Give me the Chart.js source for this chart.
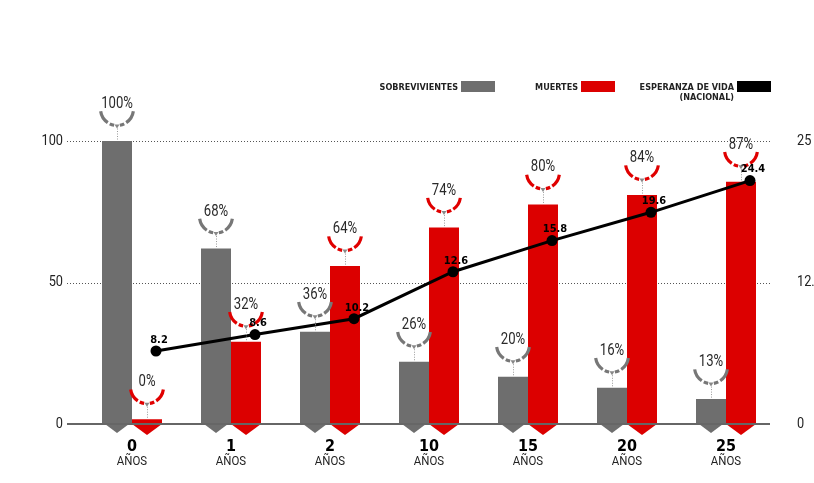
<!DOCTYPE html>
<html>
<head>
<meta charset="utf-8">
<script src="https://cdn.jsdelivr.net/npm/chart.js@4"></script>
<style>
  html, body { margin: 0; padding: 0; background: #fff; }
  #wrap { position: relative; width: 814px; height: 483px; overflow: hidden; }
  #chart { position: absolute; left: 0; top: 0; }
  .legend-item {
    position: absolute; top: 81px; display: flex; align-items: flex-start; gap: 3px;
    font: bold 9px "DejaVu Sans Condensed", "DejaVu Sans", sans-serif; color: #222;
    text-align: right; line-height: 10px;
  }
  .legend-item .sw { width: 34px; height: 11px; }
  .legend-item .txt { padding-top: 1px; }
</style>
</head>
<body>
<div id="wrap">
  <canvas id="chart" width="814" height="483"></canvas>
  <div id="legend"></div>
</div>
<script>
// Categories (age in years) and unit shown under each one
const categories = ['0', '1', '2', '10', '15', '20', '25'];
const unitLabel = 'AÑOS';

// Bar heights (left axis, 0-100)
const survivors = [100, 62, 32.6, 22, 16.7, 12.8, 8.8];
const deaths = [1.7, 29.1, 55.8, 69.4, 77.6, 80.9, 85.6];

// Line values (right axis, 0-25)
const lifeExpectancy = [6.45, 7.9, 9.3, 13.45, 16.2, 18.7, 21.5];

// Texts printed over the marks
const survivorsText = ['100%', '68%', '36%', '26%', '20%', '16%', '13%'];
const deathsText = ['0%', '32%', '64%', '74%', '80%', '84%', '87%'];
const lifeText = ['8.2', '8.6', '10.2', '12.6', '15.8', '19.6', '24.4'];

// Tick labels
const leftTicks = [0, 50, 100];
const rightTicks = [0, 12.5, 25];

// Legend
const legendItems = [
    { text: 'SOBREVIVIENTES', color: '#6e6e6e', right: 319 },
    { text: 'MUERTES', color: '#dc0000', right: 199 },
    { text: 'ESPERANZA DE VIDA<br>(NACIONAL)', color: '#000000', right: 43 }
];

const GRAY = '#6e6e6e';
const RED = '#dc0000';
const GRID_LEFT = 67;
const GRID_RIGHT = 770;
const LINE_SHIFT = 24;
const NARROW = 'Roboto, "DejaVu Sans", sans-serif';

const legendEl = document.getElementById('legend');
legendItems.forEach(item => {
    const div = document.createElement('div');
    div.className = 'legend-item';
    div.style.right = item.right + 'px';
    div.innerHTML = '<span class="txt">' + item.text + '</span><span class="sw" style="background:' + item.color + '"></span>';
    legendEl.appendChild(div);
});

// text squeezed horizontally, the source uses a condensed face
function narrowText(ctx, text, x, y, font, color, align, squeeze) {
    ctx.save();
    ctx.font = font;
    ctx.fillStyle = color;
    ctx.textAlign = align;
    ctx.textBaseline = 'middle';
    ctx.translate(x, y);
    ctx.scale(squeeze, 1);
    ctx.fillText(text, 0, 0);
    ctx.restore();
}

// draws a dashed half-ring with a small pointer under the percent text
function drawBracket(ctx, cx, top, color, text) {
    const r = 16.5;
    const cy = top - 32;
    const deg = Math.PI / 180;
    ctx.save();
    ctx.strokeStyle = color;
    ctx.lineWidth = 3.2;
    [[172, 124], [116, 100], [80, 64], [56, 8]].forEach(seg => {
        ctx.beginPath();
        ctx.arc(cx, cy, r, seg[1] * deg, seg[0] * deg);
        ctx.stroke();
    });
    // pointer
    ctx.fillStyle = '#888';
    ctx.beginPath();
    ctx.moveTo(cx - 2.5, cy + r - 1);
    ctx.lineTo(cx + 2.5, cy + r - 1);
    ctx.lineTo(cx, cy + r + 3);
    ctx.closePath();
    ctx.fill();
    // dotted stem
    ctx.strokeStyle = '#999';
    ctx.lineWidth = 1;
    ctx.setLineDash([1, 1.5]);
    ctx.beginPath();
    ctx.moveTo(cx + 0.5, cy + r + 3);
    ctx.lineTo(cx + 0.5, top);
    ctx.stroke();
    ctx.restore();
    narrowText(ctx, text, cx, cy - 5, '16px ' + NARROW, '#2a2a2a', 'center', 0.82);
}

const decorations = {
    id: 'decorations',
    afterDatasetsUpdate(chart) {
        // the line points sit to the right of the category centre
        chart.getDatasetMeta(2).data.forEach(p => { p.x += LINE_SHIFT; });
    },
    beforeDatasetsDraw(chart) {
        const { ctx, scales: { y, y2 } } = chart;
        ctx.save();
        ctx.strokeStyle = '#555';
        ctx.lineWidth = 1;
        ctx.setLineDash([1, 2]);
        leftTicks.forEach(v => {
            if (v === 0) return;
            const py = Math.round(y.getPixelForValue(v)) + 0.5;
            ctx.beginPath();
            ctx.moveTo(GRID_LEFT, py);
            ctx.lineTo(GRID_RIGHT, py);
            ctx.stroke();
        });
        ctx.restore();

        // tick labels
        leftTicks.forEach(v => {
            narrowText(ctx, String(v), 63, y.getPixelForValue(v), '15px ' + NARROW, '#222', 'right', 0.85);
        });
        rightTicks.forEach(v => {
            narrowText(ctx, String(v), 797, y2.getPixelForValue(v), '15px ' + NARROW, '#222', 'left', 0.85);
        });

        // pointed feet under the bars
        [[0, GRAY, 3, 9], [1, RED, 0, 11]].forEach(([idx, color, inset, depth]) => {
            chart.getDatasetMeta(idx).data.forEach(bar => {
                const { x, width, base } = bar.getProps(['x', 'width', 'base'], true);
                ctx.save();
                ctx.fillStyle = color;
                ctx.beginPath();
                ctx.moveTo(x - width / 2 + inset, base);
                ctx.lineTo(x + width / 2 - inset, base);
                ctx.lineTo(x, base + depth);
                ctx.closePath();
                ctx.fill();
                ctx.restore();
            });
        });
    },
    afterDatasetsDraw(chart) {
        const { ctx, scales: { x, y } } = chart;

        // zero axis
        const y0 = y.getPixelForValue(0);
        ctx.save();
        ctx.strokeStyle = '#666';
        ctx.lineWidth = 2;
        ctx.beginPath();
        ctx.moveTo(GRID_LEFT, y0);
        ctx.lineTo(GRID_RIGHT, y0);
        ctx.stroke();
        ctx.restore();

        chart.getDatasetMeta(0).data.forEach((bar, i) => {
            drawBracket(ctx, bar.x, bar.y, '#777', survivorsText[i]);
        });
        chart.getDatasetMeta(1).data.forEach((bar, i) => {
            drawBracket(ctx, bar.x, bar.y, '#e00000', deathsText[i]);
        });

        // line value labels
        ctx.save();
        ctx.font = 'bold 11px "DejaVu Sans Condensed", "DejaVu Sans", sans-serif';
        ctx.textAlign = 'center';
        ctx.textBaseline = 'middle';
        ctx.fillStyle = '#000';
        chart.getDatasetMeta(2).data.forEach((p, i) => {
            ctx.fillText(lifeText[i], p.x + 3, p.y - 11);
        });

        // category labels
        categories.forEach((c, i) => {
            const px = x.getPixelForValue(i);
            ctx.fillStyle = '#000';
            ctx.font = 'bold 16px "DejaVu Sans Condensed", "DejaVu Sans", sans-serif';
            ctx.fillText(c, px, 447);
            narrowText(ctx, unitLabel, px, 462, '13px ' + NARROW, '#222', 'center', 0.88);
        });
        ctx.restore();
    }
};

const ctx = document.getElementById('chart').getContext('2d');

const chart = new Chart(ctx, {
    data: {
        labels: categories,
        datasets: [
            {
                type: 'bar',
                label: 'Sobrevivientes',
                data: survivors,
                backgroundColor: GRAY,
                yAxisID: 'y',
                categoryPercentage: 0.606,
                barPercentage: 1,
                order: 1
            },
            {
                type: 'bar',
                label: 'Muertes',
                data: deaths,
                backgroundColor: RED,
                yAxisID: 'y',
                categoryPercentage: 0.606,
                barPercentage: 1,
                order: 1
            },
            {
                type: 'line',
                label: 'Esperanza de vida (nacional)',
                data: lifeExpectancy,
                yAxisID: 'y2',
                borderColor: '#000',
                borderWidth: 3,
                pointRadius: 5.5,
                pointBackgroundColor: '#000',
                pointBorderWidth: 0,
                tension: 0,
                order: 0
            }
        ]
    },
    options: {
        responsive: false,
        animation: false,
        events: [],
        layout: { padding: { top: 141, left: 0, right: 0, bottom: 0 } },
        plugins: {
            legend: { display: false },
            tooltip: { enabled: false }
        },
        scales: {
            x: {
                offset: true,
                grid: { display: false, drawTicks: false },
                border: { display: false },
                ticks: { display: false },
                afterFit(axis) { axis.height = 59; }
            },
            y: {
                position: 'left',
                min: 0,
                max: 100,
                grid: { display: false, drawTicks: false },
                border: { display: false },
                ticks: { display: false },
                afterFit(axis) { axis.width = 82.5; }
            },
            y2: {
                position: 'right',
                min: 0,
                max: 25,
                grid: { display: false, drawTicks: false },
                border: { display: false },
                ticks: { display: false },
                afterFit(axis) { axis.width = 38.5; }
            }
        }
    },
    plugins: [decorations]
});
</script>
</body>
</html>
